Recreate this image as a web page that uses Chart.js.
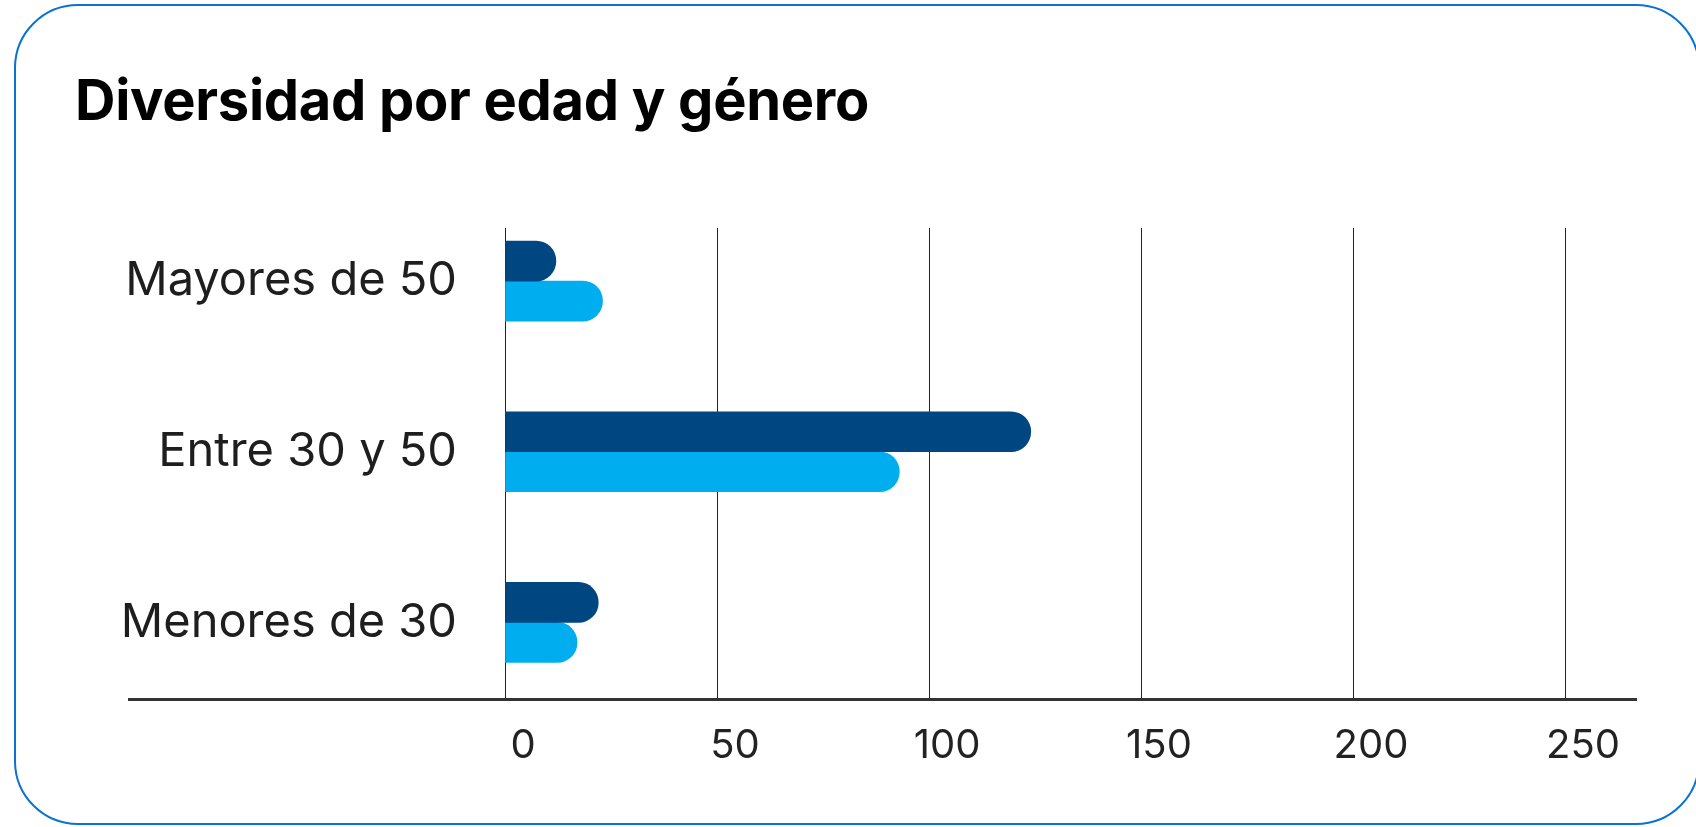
<!DOCTYPE html>
<html>
<head>
<meta charset="utf-8">
<script src="https://cdn.jsdelivr.net/npm/chart.js@4"></script>
<style>
    html, body { margin: 0; padding: 0; background: #fff; }
    body { width: 1696px; height: 827px; position: relative; overflow: hidden; font-family: Inter, sans-serif; }
    .card {
        position: absolute; left: 14px; top: 4px; width: 1686px; height: 821px;
        border: 2.5px solid #0a72d2; border-radius: 64px; box-sizing: border-box;
    }
    h1 {
        position: absolute; left: 75px; top: 72px; margin: 0;
        font: 700 56px/56px Inter, sans-serif; color: #000; letter-spacing: -0.3px;
    }
    .wrap { position: absolute; left: 0; top: 0; width: 1696px; height: 827px; }
</style>
</head>
<body>
<div class="card"></div>
<h1>Diversidad por edad y género</h1>
<div class="wrap"><canvas id="diversityChart"></canvas></div>
<script>
// chart data
const categories = ['Mayores de 50', 'Entre 30 y 50', 'Menores de 30'];
const hombres = [12, 124, 22];
const mujeres = [23, 93, 17];
const xTicks = [0, 50, 100, 150, 200, 250];

const darkBlue = '#004782';
const lightBlue = '#00aeef';

// long base line under the bars, wider than the plot area
const baseLine = {
    id: 'baseLine',
    afterDatasetsDraw(chart) {
        const area = chart.chartArea;
        const ctx = chart.ctx;
        ctx.save();
        ctx.strokeStyle = '#333';
        ctx.lineWidth = 3;
        ctx.beginPath();
        ctx.moveTo(area.left - 377, area.bottom + 1.5);
        ctx.lineTo(area.right + 72, area.bottom + 1.5);
        ctx.stroke();
        ctx.restore();
    }
};

document.addEventListener("DOMContentLoaded", function () {
    const canvas = document.getElementById('diversityChart');
    const ctx = canvas.getContext('2d');

    const toPoints = (arr) => arr.map((v, i) => ({ x: v, y: i }));

    new Chart(ctx, {
        type: 'bar',
        data: {
            datasets: [{
                label: 'Hombres',
                data: toPoints(hombres),
                backgroundColor: darkBlue
            }, {
                label: 'Mujeres',
                data: toPoints(mujeres),
                backgroundColor: lightBlue
            }]
        },
        options: {
            indexAxis: 'y',
            responsive: true,
            maintainAspectRatio: false,
            animation: false,
            barThickness: 40,
            borderRadius: 20,
            borderSkipped: 'start',
            layout: {
                padding: { top: 228, right: 131, bottom: 0, left: 0 }
            },
            plugins: {
                legend: { display: false },
                tooltip: { enabled: false }
            },
            scales: {
                x: {
                    type: 'linear',
                    min: 0,
                    max: 250,
                    afterBuildTicks: (scale) => { scale.ticks = xTicks.map(v => ({ value: v })); },
                    afterFit: (scale) => { scale.height = 129; },
                    grid: { color: '#222', lineWidth: 1, drawTicks: false },
                    border: { display: false },
                    ticks: {
                        padding: 24,
                        labelOffset: 18,
                        color: '#222',
                        font: { family: 'Inter', size: 40 }
                    }
                },
                y: {
                    type: 'linear',
                    reverse: true,
                    offset: false,
                    min: -0.311,
                    max: 2.443,
                    afterBuildTicks: (scale) => { scale.ticks = categories.map((c, i) => ({ value: i })); },
                    afterFit: (scale) => { scale.width = 505; },
                    grid: { display: false, drawTicks: false },
                    border: { display: false },
                    ticks: {
                        padding: 48,
                        color: '#1e1e1e',
                        font: { family: 'Inter', size: 47 },
                        callback: (v) => categories[v]
                    }
                }
            }
        },
        plugins: [baseLine]
    });
});
</script>
</body>
</html>
